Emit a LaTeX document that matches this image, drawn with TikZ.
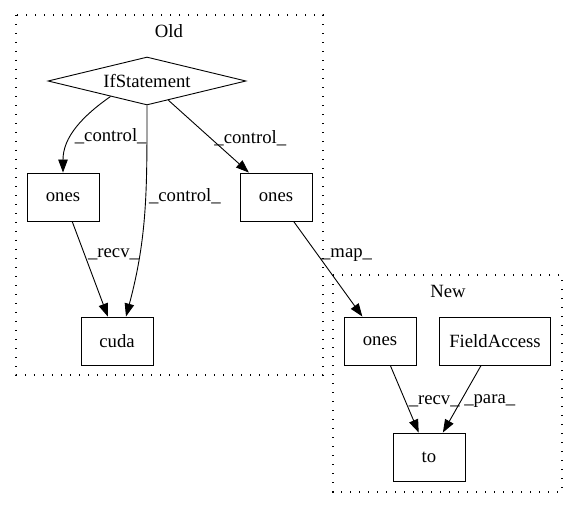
\documentclass[tikz,border=0pt]{standalone}
\usepackage{fontspec}
\setmainfont{Liberation Serif}
\usetikzlibrary{arrows.meta, shapes.geometric}

\begin{document}
\begin{tikzpicture}[x=1pt, y=-1pt]

\tikzset{box/.style = {shape=rectangle,draw,line width=0.9pt,minimum width=72pt,minimum height=48pt,font=\fontsize{18.7}{22}\selectfont}}
\tikzset{cond/.style = {shape=diamond,draw,line width=0.9pt,minimum width=198pt,minimum height=48pt,aspect=4.125,inner sep=0pt,font=\fontsize{18.7}{22}\selectfont}}
\tikzset{edge/.style = {-{Triangle[length=13pt,width=9.5pt]},line width=0.9pt}}
\tikzset{lbl/.style = {right,inner sep=3pt,font=\fontsize{18.7}{22}\selectfont}}
\tikzset{cluster/.style = {draw,line width=1.1pt,dash pattern=on 1.4pt off 7.6pt}}
\useasboundingbox (0,0) rectangle (579,508);
%clusters
\draw [cluster] (16,15) rectangle (323,375);
\draw [cluster] (333,275) rectangle (562,492);
\node [font=\fontsize{18.7}{22}\selectfont] (old) at (169,31) {Old};
\node [font=\fontsize{18.7}{22}\selectfont] (new) at (448,291) {New};
%verticies
\node[cond] (if) at (147,81) {IfStatement};
\node[box] (onesA) at (63,197) {ones};
\node[box] (onesB) at (276,197) {ones};
\node[box] (cuda) at (117,341) {cuda};
\node[box] (onesC) at (380,341) {ones};
\node[box, minimum width=111pt] (field) at (495,341) {FieldAccess};
\node[box] (to) at (429,457) {to};
%edges
\draw [edge] (if.203) to[out=215, in=90] node [lbl, pos=0.6] {\_control\_} (onesA);
\draw [edge] (if.south) to[out=-90, in=75] node [lbl, pos=0.42] {\_control\_} ([xshift=9pt]cuda.north);
\draw [edge] (if) -- (onesB) node [lbl, pos=0.53] {\_control\_};
\draw [edge] (onesA) -- (cuda) node [lbl, pos=0.35] {\_recv\_};
\draw [edge] (onesB) -- (onesC) node [lbl, pos=0.35] {\_map\_};
\draw [edge] (onesC) -- (to) node [lbl, pos=0.53] {\_recv\_};
\draw [edge] (field) -- (to) node [lbl, pos=0.53] {\_para\_};

\end{tikzpicture}
\end{document}
